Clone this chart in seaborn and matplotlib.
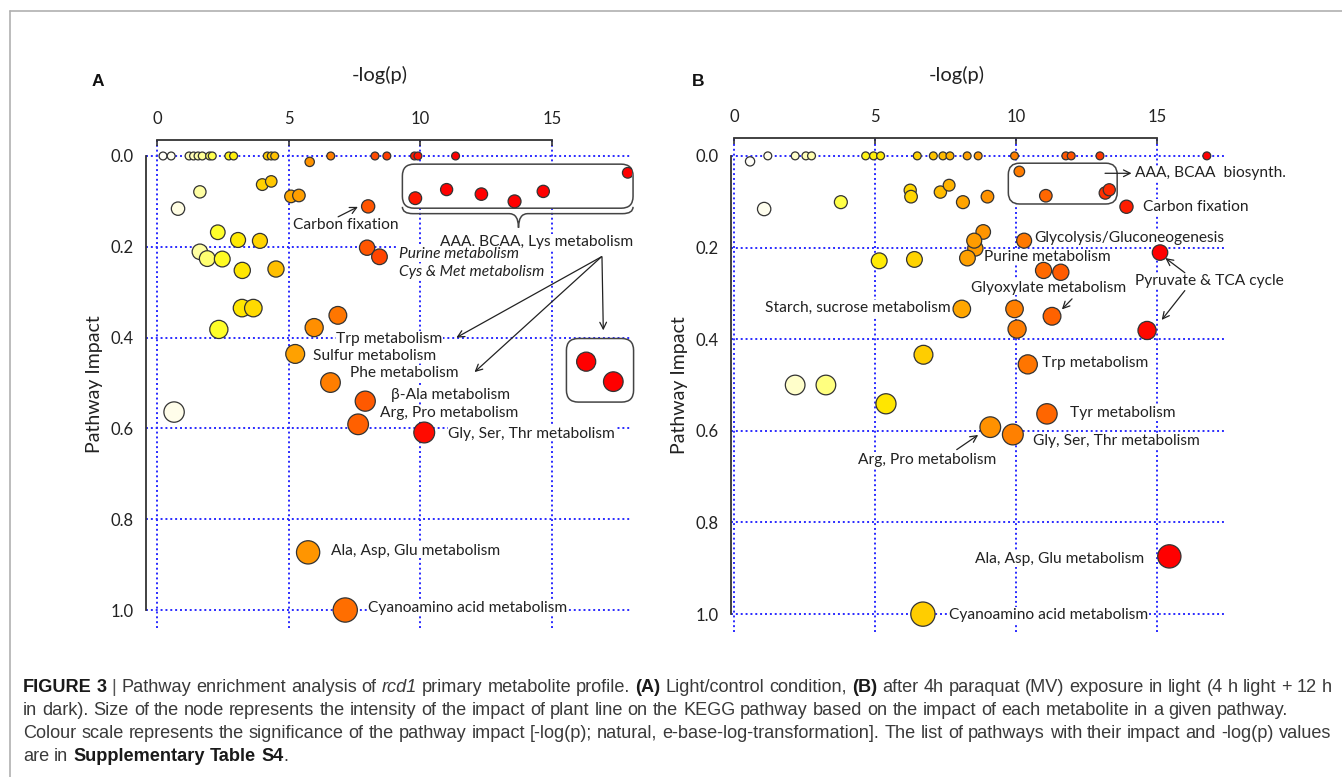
import numpy as np
import pandas as pd
import matplotlib
matplotlib.use("Agg")
import matplotlib.pyplot as plt
import seaborn as sns
from matplotlib.colors import LinearSegmentedColormap, Normalize, PowerNorm
from matplotlib.patches import FancyBboxPatch, PathPatch
from matplotlib.path import Path
from matplotlib.lines import Line2D

# ---------------- data ----------------
# Panel A: light / control condition
a_logp = [0.23, 0.54, 1.22, 1.39, 1.56, 1.72, 2.00, 2.10, 2.73, 2.91, 4.19, 4.34, 4.47,
          6.60, 8.28, 8.73, 9.78, 9.91, 11.34, 5.80,
          17.88, 9.81, 11.00, 12.32, 13.58, 14.67,
          8.02, 4.00, 4.34, 5.09, 5.39, 1.63, 0.80,
          2.31, 3.08, 3.91, 1.63, 1.91, 2.48, 3.24, 4.52,
          7.98, 8.45, 3.23, 3.66, 2.35, 6.87, 5.97,
          5.25, 6.59, 7.91, 7.64, 10.15, 0.65, 5.74, 7.15]
a_impact = [0.0, 0.0, 0.0, 0.0, 0.0, 0.0, 0.0, 0.0, 0.0, 0.0, 0.0, 0.0, 0.0,
            0.0, 0.0, 0.0, 0.0, 0.0, 0.0, 0.013,
            0.037, 0.093, 0.074, 0.084, 0.100, 0.078,
            0.111, 0.063, 0.056, 0.089, 0.087, 0.079, 0.116,
            0.168, 0.185, 0.187, 0.211, 0.226, 0.227, 0.252, 0.249,
            0.202, 0.222, 0.335, 0.335, 0.382, 0.351, 0.378,
            0.436, 0.499, 0.540, 0.591, 0.609, 0.564, 0.873, 1.000]
# Panel A inset (the two pathways pointed to from "AAA, BCAA, Lys metabolism")
a_inset_logp = [16.30, 17.33]
a_inset_impact = [0.453, 0.497]

# Panel B: after 4 h paraquat (MV) exposure
b_logp = [1.20, 2.17, 2.55, 2.75, 4.67, 4.95, 5.20, 6.50, 7.07, 7.41, 7.66, 8.27, 8.66,
          9.95, 11.77, 11.96, 12.98, 16.77, 0.57,
          1.07, 3.79, 6.25, 6.28, 7.32, 7.63, 8.12, 8.99,
          10.12, 11.06, 13.17, 13.31, 13.92,
          8.56, 8.84, 8.52, 10.29, 5.15, 6.40, 8.28, 15.11,
          10.98, 11.59, 8.08, 9.95, 10.04, 11.28, 14.65,
          6.72, 10.42, 2.17, 3.26, 5.39, 11.10, 9.09, 9.89, 15.44, 6.70]
b_impact = [0.0, 0.0, 0.0, 0.0, 0.0, 0.0, 0.0, 0.0, 0.0, 0.0, 0.0, 0.0, 0.0,
            0.0, 0.0, 0.0, 0.0, 0.0, 0.012,
            0.116, 0.101, 0.075, 0.089, 0.079, 0.064, 0.101, 0.089,
            0.034, 0.087, 0.081, 0.074, 0.111,
            0.202, 0.166, 0.185, 0.185, 0.229, 0.226, 0.223, 0.211,
            0.250, 0.254, 0.334, 0.334, 0.378, 0.350, 0.381,
            0.434, 0.455, 0.500, 0.500, 0.541, 0.563, 0.592, 0.608, 0.874, 1.000]

x_ticks = [0, 5, 10, 15]
y_ticks = [0.0, 0.2, 0.4, 0.6, 0.8, 1.0]

# ---------------- style ----------------
sns.set_theme(style="white")
PLOT_FONT = ['Lato', 'DejaVu Sans']
CAP_FONT = ['Liberation Sans', 'DejaVu Sans']
plt.rcParams['font.family'] = PLOT_FONT

GRID = '#2a2aff'
INK = '#222222'
LBL = 11.2

cmap = LinearSegmentedColormap.from_list('sig', [
    (0.00, '#FFFFFF'), (0.07, '#FFFDE6'), (0.15, '#FFFFA8'), (0.22, '#FFFF2A'),
    (0.30, '#FFE800'), (0.40, '#FFCC00'), (0.50, '#FFA200'), (0.62, '#FF8000'),
    (0.75, '#FF5A00'), (0.88, '#FF2A00'), (1.00, '#FF0000')])

fig = plt.figure(figsize=(13.42, 7.77), dpi=100)
W, H = 1342.0, 777.0

def px_axes(left, top, right, bottom):
    return [left / W, 1 - bottom / H, (right - left) / W, (bottom - top) / H]

axA = fig.add_axes(px_axes(145.9, 140, 632, 628))
axB = fig.add_axes(px_axes(731, 138, 1226, 632))


def draw_points(ax, xs, ys, hue_norm):
    df = pd.DataFrame({'logp': xs, 'impact': ys})
    sns.scatterplot(data=df, x='logp', y='impact', hue='logp', size='impact',
                    palette=cmap, hue_norm=hue_norm,
                    sizes=(32, 305), size_norm=PowerNorm(gamma=0.7, vmin=0, vmax=1),
                    edgecolor='#333333', linewidth=0.9, legend=False, ax=ax, zorder=2)


def style_axes(ax, xlim, ylim):
    ax.set_xlim(*xlim)
    ax.set_ylim(*ylim)
    ax.set_axisbelow(True)
    ax.grid(True, color=GRID, linestyle=(0, (1, 1.5)), linewidth=1.4)
    ax.xaxis.tick_top()
    ax.set_xticks(x_ticks)
    ax.set_yticks(y_ticks)
    ax.set_yticklabels([f"{v:.1f}" for v in y_ticks])
    ax.spines['right'].set_visible(False)
    ax.spines['bottom'].set_visible(False)
    for s in ('top', 'left'):
        ax.spines[s].set_color('#333333')
        ax.spines[s].set_linewidth(1.3)
    ax.spines['top'].set_bounds(0, 15)
    ax.spines['left'].set_bounds(0, 1)
    ax.tick_params(axis='x', direction='in', length=4, width=1.2, pad=9,
                   labelsize=12, colors='#333333', labelcolor=INK)
    ax.tick_params(axis='y', direction='out', length=5, width=1.2, pad=4,
                   labelsize=12, colors='#333333', labelcolor=INK)
    ax.set_facecolor('white')


def finish_labels(ax):
    ax.set_xlabel('')
    ax.set_ylabel('Pathway Impact', fontsize=14, color=INK, labelpad=5)


def label(ax, x, y, s, ha='left', style='normal'):
    ax.text(x, y, s, ha=ha, va='center', fontsize=LBL, fontstyle=style, color=INK,
            zorder=1.5, bbox=dict(facecolor='white', edgecolor='none', pad=0.4))


def arrow(ax, start, end):
    ax.annotate('', xy=end, xytext=start, annotation_clip=False,
                arrowprops=dict(arrowstyle='->', color=INK, lw=0.9,
                                shrinkA=0, shrinkB=0, mutation_scale=12), zorder=3)


def rbox(ax, x0, y0, x1, y1, aspect, r=0.45):
    p = FancyBboxPatch((x0, y0), x1 - x0, y1 - y0,
                       boxstyle=f"round,pad=0,rounding_size={r}",
                       mutation_aspect=aspect, facecolor='white', edgecolor='#444444',
                       linewidth=1.1, zorder=1.2, clip_on=False)
    ax.add_patch(p)


# ---------------- Panel A ----------------
draw_points(axA, a_logp, a_impact, Normalize(vmin=0, vmax=10.5))
draw_points(axA, a_inset_logp, a_inset_impact, Normalize(vmin=0, vmax=10.5))
style_axes(axA, (-0.42, 18.04), (1.0396, -0.0352))
finish_labels(axA)
for c in axA.collections:
    c.set_zorder(2)
aspA = 26.33 / 454.0
rbox(axA, 9.32, 0.018, 18.08, 0.115, aspA)
rbox(axA, 15.55, 0.402, 18.10, 0.542, aspA)

# curly brace under the box
xL, xR, xc = 9.32, 18.08, 13.73
yb0, yb1, yb2 = 0.112, 0.127, 0.158
verts = [(xL, yb0), (xL, yb1), (xL + 0.4, yb1), (xc - 0.35, yb1), (xc, yb1), (xc, yb2),
         (xc, yb2), (xc, yb1), (xc + 0.35, yb1), (xR - 0.4, yb1), (xR, yb1), (xR, yb0)]
codes = [Path.MOVETO, Path.CURVE3, Path.CURVE3, Path.LINETO, Path.CURVE3, Path.CURVE3,
         Path.MOVETO, Path.CURVE3, Path.CURVE3, Path.LINETO, Path.CURVE3, Path.CURVE3]
axA.add_patch(PathPatch(Path(verts, codes), facecolor='none', edgecolor='#444444',
                        linewidth=1.1, zorder=1.3, clip_on=False))

label(axA, 5.17, 0.152, 'Carbon fixation')
arrow(axA, (6.88, 0.134), (7.63, 0.112))
label(axA, 14.4, 0.189, 'AAA, BCAA, Lys metabolism', ha='center')
label(axA, 9.19, 0.216, 'Purine metabolism', style='italic')
label(axA, 9.19, 0.255, 'Cys & Met metabolism', style='italic')
label(axA, 8.83, 0.402, 'Trp metabolism', ha='center')
label(axA, 5.92, 0.440, 'Sulfur metabolism')
label(axA, 7.33, 0.478, 'Phe metabolism')
label(axA, 8.89, 0.526, '\u03b2-Ala metabolism')
label(axA, 8.47, 0.565, 'Arg, Pro metabolism')
label(axA, 11.07, 0.612, 'Gly, Ser, Thr metabolism')
label(axA, 6.61, 0.869, 'Ala, Asp, Glu metabolism')
label(axA, 8.01, 0.996, 'Cyanoamino acid metabolism')
arrow(axA, (16.88, 0.222), (11.37, 0.400))
arrow(axA, (16.88, 0.222), (12.06, 0.476))
arrow(axA, (16.90, 0.222), (16.95, 0.384))

# ---------------- Panel B ----------------
draw_points(axB, b_logp, b_impact, PowerNorm(gamma=1.15, vmin=0, vmax=15))
style_axes(axB, (-0.106, 17.45), (1.039, -0.039))
finish_labels(axB)
for c in axB.collections:
    c.set_zorder(2)
aspB = 28.2 / 458.0
rbox(axB, 9.73, 0.016, 13.59, 0.105, aspB, r=0.4)
arrow(axB, (13.16, 0.038), (14.10, 0.038))
label(axB, 14.22, 0.038, 'AAA, BCAA  biosynth.')
label(axB, 14.51, 0.111, 'Carbon fixation')
label(axB, 10.65, 0.180, 'Glycolysis/Gluconeogenesis')
label(axB, 8.85, 0.220, 'Purine metabolism')
label(axB, 14.22, 0.273, 'Pyruvate & TCA cycle')
arrow(axB, (15.99, 0.255), (15.30, 0.223))
arrow(axB, (15.99, 0.294), (15.17, 0.358))
label(axB, 8.40, 0.288, 'Glyoxylate metabolism')
arrow(axB, (11.99, 0.312), (11.63, 0.335))
label(axB, 7.67, 0.332, 'Starch, sucrose metabolism', ha='right')
label(axB, 10.94, 0.452, 'Trp metabolism')
label(axB, 11.93, 0.561, 'Tyr metabolism')
label(axB, 10.62, 0.622, 'Gly, Ser, Thr metabolism')
label(axB, 6.84, 0.663, 'Arg, Pro metabolism', ha='center')
arrow(axB, (7.90, 0.641), (8.66, 0.609))
label(axB, 14.54, 0.880, 'Ala, Asp, Glu metabolism', ha='right')
label(axB, 7.62, 1.002, 'Cyanoamino acid metabolism')

# ---------------- figure texts ----------------
fig.text(380 / W, 1 - 75 / H, '-log(p)', ha='center', va='center', fontsize=14.5, color=INK)
fig.text(957 / W, 1 - 75 / H, '-log(p)', ha='center', va='center', fontsize=14.5, color=INK)
fig.text(98 / W, 1 - 82 / H, 'A', ha='center', va='center', fontsize=12.5,
         fontweight='bold', family=CAP_FONT, color='#111111')
fig.text(698 / W, 1 - 82 / H, 'B', ha='center', va='center', fontsize=12.5,
         fontweight='bold', family=CAP_FONT, color='#111111')

# frame lines
fig.add_artist(Line2D([9.5 / W, 1.0], [1 - 10.5 / H, 1 - 10.5 / H], color='#b0b0b0', lw=1.2))
fig.add_artist(Line2D([9.5 / W, 9.5 / W], [0.0, 1 - 10.5 / H], color='#b0b0b0', lw=1.2))

# ---------------- caption ----------------
renderer = fig.canvas.get_renderer()
FMT = {'n': dict(fontweight='normal', fontstyle='normal', color='#3a3a3a'),
       'b': dict(fontweight='bold', fontstyle='normal', color='#1a1a1a'),
       'i': dict(fontweight='normal', fontstyle='italic', color='#3a3a3a'),
       'bar': dict(fontweight='normal', fontstyle='normal', color='#555555')}


def toks(text, fmt):
    return [(w, fmt, False) for w in text.split(' ') if w]


def measure(s, size, fmt):
    t = fig.text(0, 0, s, fontsize=size, family=CAP_FONT, **FMT[fmt])
    w = t.get_window_extent(renderer).width
    t.remove()
    return w


def line_width(tokens, size):
    total = 0.0
    sp = measure('a a', size, 'n') - measure('aa', size, 'n')
    for k, (w, f, nosp) in enumerate(tokens):
        if k > 0 and not nosp:
            total += sp
        total += measure(w, size, f)
    return total


def draw_line(tokens, x0, ybase, size):
    sp = measure('a a', size, 'n') - measure('aa', size, 'n')
    x = x0
    for k, (w, f, nosp) in enumerate(tokens):
        if k > 0 and not nosp:
            x += sp
        t = fig.text(x / W, 1 - ybase / H, w, fontsize=size, family=CAP_FONT,
                     va='baseline', ha='left', **FMT[f])
        x += t.get_window_extent(renderer).width


line1 = (toks('FIGURE 3', 'b') + toks('|', 'bar') + toks('Pathway enrichment analysis of', 'n')
         + toks('rcd1', 'i') + toks('primary metabolite profile.', 'n') + toks('(A)', 'b')
         + toks('Light/control condition,', 'n') + toks('(B)', 'b')
         + toks('after 4h paraquat (MV) exposure in light (4 h light + 12 h', 'n'))
line2 = toks('in dark). Size of the node represents the intensity of the impact of plant line on '
             'the KEGG pathway based on the impact of each metabolite in a given pathway.', 'n')
line3 = toks('Colour scale represents the significance of the pathway impact [-log(p); natural, '
             'e-base-log-transformation]. The list of pathways with their impact and -log(p) values', 'n')
line4 = toks('are in', 'n') + toks('Supplementary Table S4', 'b') + [('.', 'n', True)]

base = 10.0
cap_size = base * 1312.0 / line_width(line1, base)
for toks_line, yb in zip([line1, line2, line3, line4], [692, 715, 738, 761]):
    draw_line(toks_line, 23, yb, cap_size)

fig.savefig('out.png', dpi=100, facecolor='white')
